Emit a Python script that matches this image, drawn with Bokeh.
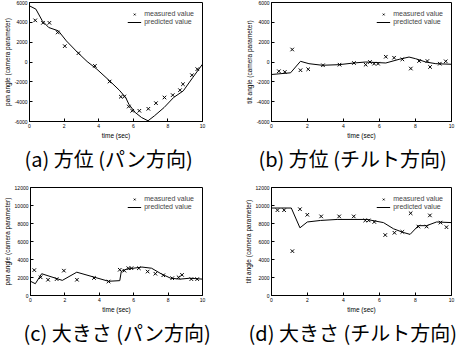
from bokeh.plotting import figure
from bokeh.layouts import column, row
from bokeh.models import FixedTicker, Legend, LegendItem, Range1d
from bokeh.embed import file_html
from bokeh.resources import INLINE

FONT = "Liberation Sans"
CAP_FONT = "Noto Sans CJK JP"

# ---------------- data ----------------
x_ticks = [0, 2, 4, 6, 8, 10]
y_ticks_dir = [-6000, -4000, -2000, 0, 2000, 4000, 6000]
y_ticks_size = [0, 2000, 4000, 6000, 8000, 10000, 12000]

legend_labels = ["measured value", "predicted value"]
x_label = "time (sec)"
y_label_pan = "pan angle (camera parameter)"
y_label_tilt = "tilt angle (camera parameter)"

captions = ["(a) 方位 (パン方向)", "(b) 方位 (チルト方向)",
            "(c) 大きさ (パン方向)", "(d) 大きさ (チルト方向)"]

# (a) direction, pan
a_meas_t = [0.33, 0.78, 1.15, 1.63, 2.04, 2.83, 3.78, 4.63, 5.28, 5.48, 5.74,
            5.94, 6.35, 6.87, 7.31, 7.80, 8.28, 8.70, 8.87, 9.39, 9.70]
a_meas_v = [4200, 3950, 3950, 2980, 1600, 890, -390, -1970, -3500, -3480, -4490,
            -4920, -4920, -4720, -4150, -3580, -3340, -2840, -2240, -1330, -720]
a_pred_t = [0, 0.37, 0.74, 1.11, 1.67, 2.13, 2.78, 3.33, 3.89, 4.63, 5.19, 5.56,
            5.74, 6.11, 6.48, 6.85, 7.22, 7.78, 8.33, 8.89, 9.44, 10]
a_pred_v = [5660, 5330, 4150, 3480, 3140, 2130, 960, 50, -720, -1900, -2840, -3580,
            -4250, -5090, -5600, -5930, -5430, -4590, -3580, -2910, -1560, -220]

# (b) direction, tilt
b_meas_t = [0.41, 0.74, 1.15, 1.61, 2.04, 2.86, 3.78, 4.58, 5.23, 5.47, 5.70,
            5.92, 6.35, 6.81, 7.27, 7.74, 8.20, 8.66, 8.81, 9.35, 9.68]
b_meas_v = [-930, -1000, 1260, -830, -730, -330, -270, -100, -270, 0, -170,
            -170, 530, 430, 270, -660, 100, 100, -500, -170, 70]
b_pred_t = [0, 1.06, 1.61, 2.08, 2.82, 3.75, 4.58, 5.23, 6.35, 7.09, 7.64, 8.01,
            8.57, 9.13, 10]
b_pred_v = [-1260, -1090, 70, -170, -330, -270, -100, 0, -100, 270, 500, 330,
            0, -170, -230]

# (c) size, pan
c_meas_t = [0.22, 0.59, 1.02, 1.52, 1.94, 2.70, 3.69, 4.54, 5.19, 5.46, 5.69,
            5.87, 6.30, 6.81, 7.26, 7.72, 8.24, 8.61, 8.81, 9.35, 9.69]
c_meas_v = [2820, 2020, 1750, 1820, 2760, 1750, 1950, 1550, 2860, 2760, 3030,
            3030, 3030, 2660, 2420, 2250, 1920, 2020, 2290, 1820, 1820]
c_pred_t = [0, 0.28, 0.65, 1.85, 2.69, 4.54, 5.19, 5.28, 5.56, 6.48, 7.04, 7.59,
            8.15, 8.70, 9.26, 10]
c_pred_v = [1580, 1310, 2420, 1680, 2590, 1580, 1650, 2690, 2920, 3160, 3030, 2420,
            1920, 1820, 1920, 1820]

# (d) size, tilt
d_meas_t = [0.33, 0.70, 1.16, 1.58, 1.99, 2.76, 3.76, 4.57, 5.21, 5.40, 5.71,
            6.32, 6.83, 7.27, 7.73, 8.16, 8.62, 8.80, 9.39, 9.72]
d_meas_v = [9480, 9480, 4930, 9590, 8970, 8790, 8790, 8790, 8340, 8340, 8170,
            6720, 6970, 7070, 9140, 7660, 7660, 8900, 8100, 7590]
d_pred_t = [0, 1.10, 1.58, 1.99, 2.73, 3.65, 5.30, 6.22, 6.78, 7.33, 7.70, 8.16,
            8.62, 9.17, 10]
d_pred_v = [9720, 9720, 7520, 8170, 8340, 8450, 8450, 8100, 7410, 7000, 6790, 7760,
            7760, 8170, 8100]


def make_panel(caption, ylab, yticks, mt, mv, pt, pv, width, height,
               bl, br, bt, bb, cap_offset):
    p = figure(width=width, height=height,
               x_range=Range1d(x_ticks[0], x_ticks[-1]),
               y_range=Range1d(yticks[0], yticks[-1]),
               output_backend="svg", toolbar_location=None,
               title=caption, title_location="below",
               min_border_left=bl, min_border_right=br,
               min_border_top=bt, min_border_bottom=bb)
    p.background_fill_color = "white"
    p.border_fill_color = "white"
    p.outline_line_color = "black"
    p.outline_line_width = 1
    p.xgrid.visible = False
    p.ygrid.visible = False

    p.title.text_font = CAP_FONT
    p.title.text_font_size = "20px"
    p.title.text_font_style = "normal"
    p.title.text_color = "black"
    p.title.align = "left"
    p.title.offset = cap_offset
    p.title.standoff = 0

    for ax, ticks in ((p.xaxis[0], x_ticks), (p.yaxis[0], yticks)):
        ax.ticker = FixedTicker(ticks=ticks)
        ax.major_label_overrides = {t: str(t) for t in ticks}
        ax.major_label_text_font = FONT
        ax.major_label_text_font_size = "5px"
        ax.major_label_text_color = "black"
        ax.axis_label_text_font = FONT
        ax.axis_label_text_font_size = "6.5px"
        ax.axis_label_text_font_style = "normal"
        ax.axis_label_text_color = "black"
        ax.major_tick_in = 3
        ax.major_tick_out = 0
        ax.minor_tick_line_color = None
        ax.axis_line_color = "black"
        ax.major_label_standoff = 2
        ax.axis_label_standoff = 1
    p.xaxis[0].axis_label = x_label
    p.yaxis[0].axis_label = ylab

    s = p.scatter(mt, mv, marker="x", size=5, line_color="black", line_width=1)
    ln = p.line(pt, pv, line_color="black", line_width=1)

    leg = Legend(items=[LegendItem(label=legend_labels[0], renderers=[s]),
                        LegendItem(label=legend_labels[1], renderers=[ln])],
                 location="top_right",
                 label_text_font=FONT, label_text_font_size="7px",
                 glyph_width=14, glyph_height=6, label_height=6,
                 label_standoff=3, spacing=1, padding=2, margin=6,
                 border_line_alpha=0, background_fill_alpha=0)
    p.add_layout(leg)
    return p


pa = make_panel(captions[0], y_label_pan, y_ticks_dir, a_meas_t, a_meas_v,
                a_pred_t, a_pred_v, 229, 175, 22, 27, 2, 54, -5)
pb = make_panel(captions[1], y_label_tilt, y_ticks_dir, b_meas_t, b_meas_v,
                b_pred_t, b_pred_v, 230, 175, 42, 8, 2, 54, -13)
pc = make_panel(captions[2], y_label_pan, y_ticks_size, c_meas_t, c_meas_v,
                c_pred_t, c_pred_v, 229, 171, 22, 27, 12, 50, -7)
pd = make_panel(captions[3], y_label_tilt, y_ticks_size, d_meas_t, d_meas_v,
                d_pred_t, d_pred_v, 230, 171, 42, 8, 12, 50, -23)

layout = column(row(pa, pb), row(pc, pd))

with open("out.html", "w") as f:
    f.write(file_html(layout, INLINE))
